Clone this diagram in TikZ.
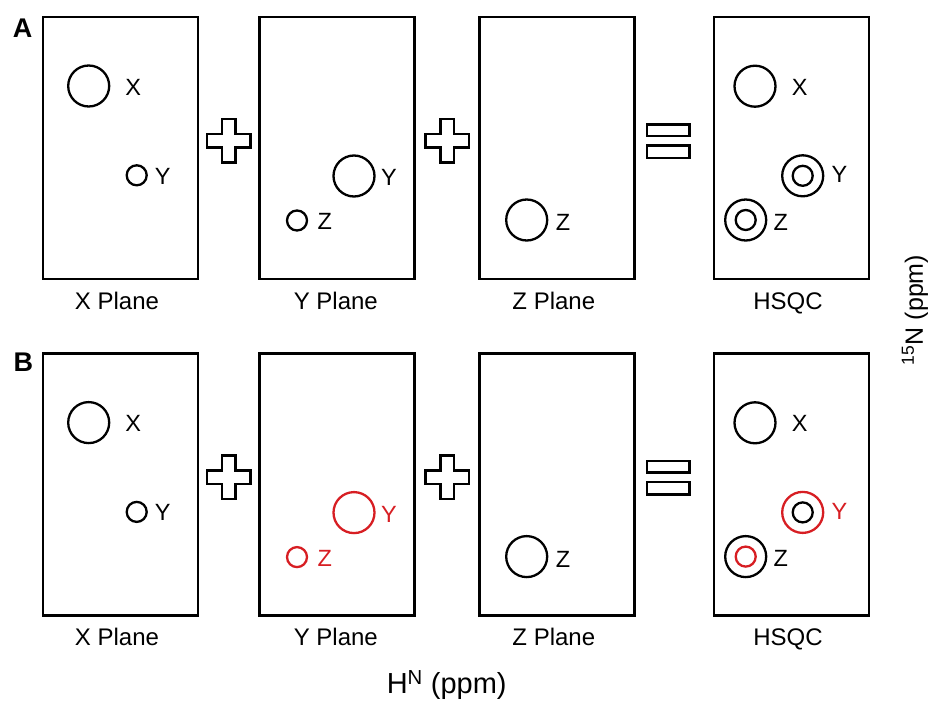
\documentclass[tikz,border=0pt]{standalone}
\usepackage{fontspec}
\setmainfont{Liberation Sans}
\definecolor{pkred}{RGB}{215,30,35}
\begin{document}
\begin{tikzpicture}[x=1pt,y=-1pt,
  panel/.style={draw, line width=2.5pt, minimum width=155pt, minimum height=262pt, inner sep=0pt},
  bigpk/.style={draw, circle, line width=2.3pt, inner sep=0pt, minimum size=41pt},
  smallpk/.style={draw, circle, line width=2.3pt, inner sep=0pt, minimum size=20pt},
  pklabel/.style={inner sep=0pt, font=\fontsize{23.5}{26}\selectfont},
  plabel/.style={inner sep=0pt, anchor=base, font=\fontsize{24}{28}\selectfont},
  panelletter/.style={inner sep=0pt, font=\fontsize{27}{30}\selectfont\bfseries},
  sym/.style={draw, line width=2.5pt, line join=miter},
  hlpk/.style={draw=pkred},
  hltext/.style={text=pkred}]
\useasboundingbox (0,0) rectangle (929,701);

% ---------------- Panel A ----------------
\node[panelletter] (Alet) at (22.5,27.8) {A};
\node[panel] (A1) at (120.5,147.8) {};
\node[panel] (A2) at (337.2,147.8) {};
\node[panel] (A3) at (557.2,147.8) {};
\node[panel] (A4) at (791.7,147.8) {};
\node[plabel] (A1lab) at (117,309) {X Plane};
\node[plabel] (A2lab) at (335.8,309) {Y Plane};
\node[plabel] (A3lab) at (553.8,309) {Z Plane};
\node[plabel] (A4lab) at (788,309) {HSQC};

\node[bigpk] (A1x) at (88.7,86) {};
\node[pklabel] (A1xl) at (133.3,87) {X};
\node[smallpk] (A1y) at (136.7,175.3) {};
\node[pklabel] (A1yl) at (162.7,176.3) {Y};

\node[bigpk] (A2y) at (354,176) {};
\node[pklabel] (A2yl) at (389,177.5) {Y};
\node[smallpk] (A2z) at (297,220.5) {};
\node[pklabel] (A2zl) at (324.7,221.5) {Z};

\node[bigpk] (A3z) at (526.7,220) {};
\node[pklabel] (A3zl) at (563,222.5) {Z};

\node[bigpk] (A4x) at (755,86.2) {};
\node[pklabel] (A4xl) at (799.8,87.3) {X};
\node[bigpk] (A4yo) at (802.7,175.8) {};
\node[smallpk] (A4yi) at (802.7,175.8) {};
\node[pklabel] (A4yl) at (839.5,174.5) {Y};
\node[bigpk] (A4zo) at (745.7,220) {};
\node[smallpk] (A4zi) at (745.7,220) {};
\node[pklabel] (A4zl) at (780.8,222) {Z};

\begin{scope}[shift={(228.7,140.8)}]
\draw[sym] (-6.8,-21.7) -- (6.8,-21.7) -- (6.8,-6.8) -- (21.7,-6.8) -- (21.7,6.8) -- (6.8,6.8) -- (6.8,21.7) -- (-6.8,21.7) -- (-6.8,6.8) -- (-21.7,6.8) -- (-21.7,-6.8) -- (-6.8,-6.8) -- cycle;
\end{scope}
\begin{scope}[shift={(447.2,140.8)}]
\draw[sym] (-6.8,-21.7) -- (6.8,-21.7) -- (6.8,-6.8) -- (21.7,-6.8) -- (21.7,6.8) -- (6.8,6.8) -- (6.8,21.7) -- (-6.8,21.7) -- (-6.8,6.8) -- (-21.7,6.8) -- (-21.7,-6.8) -- (-6.8,-6.8) -- cycle;
\end{scope}
\draw[sym] (647,124.5) rectangle (689.5,136);
\draw[sym] (647,145.5) rectangle (689.5,157.8);

% ---------------- Panel B ----------------
\begin{scope}[shift={(0,336.6)}]
\node[panelletter] (Blet) at (23.3,26) {B};
\node[panel] (B1) at (120.5,147.8) {};
\node[panel] (B2) at (337.2,147.8) {};
\node[panel] (B3) at (557.2,147.8) {};
\node[panel] (B4) at (791.7,147.8) {};
\node[plabel] (B1lab) at (117,309) {X Plane};
\node[plabel] (B2lab) at (335.8,309) {Y Plane};
\node[plabel] (B3lab) at (553.8,309) {Z Plane};
\node[plabel] (B4lab) at (788,309) {HSQC};

\node[bigpk] (B1x) at (88.7,86) {};
\node[pklabel] (B1xl) at (133.3,87) {X};
\node[smallpk] (B1y) at (136.7,175.3) {};
\node[pklabel] (B1yl) at (162.7,176.3) {Y};

\node[bigpk, hlpk] (B2y) at (354,176) {};
\node[pklabel, hltext] (B2yl) at (389,177.5) {Y};
\node[smallpk, hlpk] (B2z) at (297,220.5) {};
\node[pklabel, hltext] (B2zl) at (324.7,221.5) {Z};

\node[bigpk] (B3z) at (526.7,220) {};
\node[pklabel] (B3zl) at (563,222.5) {Z};

\node[bigpk] (B4x) at (755,86.2) {};
\node[pklabel] (B4xl) at (799.8,87.3) {X};
\node[bigpk, hlpk] (B4yo) at (802.7,175.8) {};
\node[smallpk] (B4yi) at (802.7,175.8) {};
\node[pklabel, hltext] (B4yl) at (839.5,174.5) {Y};
\node[bigpk] (B4zo) at (745.7,220) {};
\node[smallpk, hlpk] (B4zi) at (745.7,220) {};
\node[pklabel] (B4zl) at (780.8,222) {Z};

\begin{scope}[shift={(228.7,140.8)}]
\draw[sym] (-6.8,-21.7) -- (6.8,-21.7) -- (6.8,-6.8) -- (21.7,-6.8) -- (21.7,6.8) -- (6.8,6.8) -- (6.8,21.7) -- (-6.8,21.7) -- (-6.8,6.8) -- (-21.7,6.8) -- (-21.7,-6.8) -- (-6.8,-6.8) -- cycle;
\end{scope}
\begin{scope}[shift={(447.2,140.8)}]
\draw[sym] (-6.8,-21.7) -- (6.8,-21.7) -- (6.8,-6.8) -- (21.7,-6.8) -- (21.7,6.8) -- (6.8,6.8) -- (6.8,21.7) -- (-6.8,21.7) -- (-6.8,6.8) -- (-21.7,6.8) -- (-21.7,-6.8) -- (-6.8,-6.8) -- cycle;
\end{scope}
\draw[sym] (647,124.5) rectangle (689.5,136);
\draw[sym] (647,145.5) rectangle (689.5,157.8);
\end{scope}

% ---------------- Axis labels ----------------
\node[inner sep=0pt, font=\fontsize{29}{32}\selectfont] (haxis) at (446.7,685) {H\textsuperscript{N} (ppm)};
\node[inner sep=0pt, rotate=90, font=\fontsize{25}{28}\selectfont] (naxis) at (915,310) {\textsuperscript{15}N (ppm)};
\end{tikzpicture}
\end{document}
